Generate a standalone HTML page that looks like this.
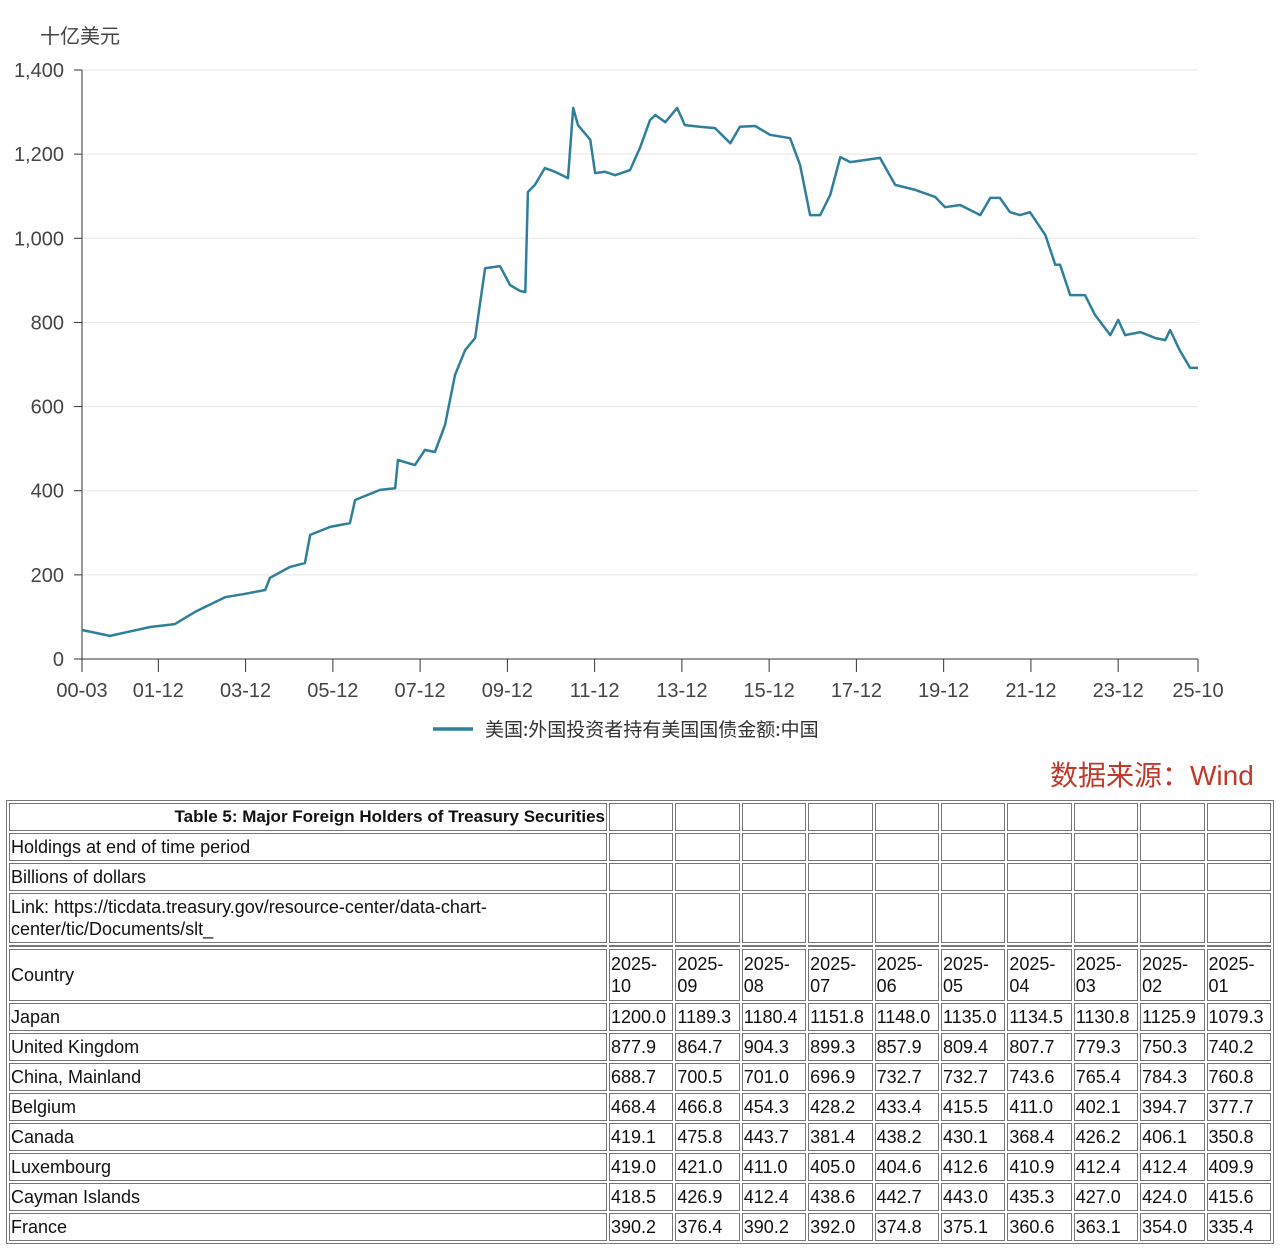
<!DOCTYPE html>
<html><head><meta charset="utf-8">
<style>
body{margin:0;width:1280px;height:1249px;background:#fff;overflow:hidden;font-family:"Liberation Sans","Noto Sans CJK SC",sans-serif;position:relative}
#chart{position:absolute;left:0;top:0}
#src{position:absolute;left:1050px;top:754px;font-size:28px;color:#c0392b;font-family:"Liberation Sans","Noto Sans CJK SC",sans-serif}
table{position:absolute;left:6px;top:800px;width:1268px;border-collapse:separate;border-spacing:2px;border:1px solid #777;table-layout:fixed;font-size:18px;color:#111}
td{border:1px solid #777;padding:0 1px;white-space:nowrap;overflow:hidden;line-height:22px;vertical-align:middle}
tr{height:28px}
.t{font-weight:bold;text-align:right;font-size:17px}
.w{white-space:normal}
</style></head><body>
<svg id="chart" width="1280" height="790"></svg>
<div id="src">数据来源：Wind</div>
<table>
<colgroup><col style="width:598px"><col span="10"></colgroup>
<tr><td class="t">Table 5: Major Foreign Holders of Treasury Securities</td><td></td><td></td><td></td><td></td><td></td><td></td><td></td><td></td><td></td><td></td></tr>
<tr><td>Holdings at end of time period</td><td></td><td></td><td></td><td></td><td></td><td></td><td></td><td></td><td></td><td></td></tr>
<tr><td>Billions of dollars</td><td></td><td></td><td></td><td></td><td></td><td></td><td></td><td></td><td></td><td></td></tr>
<tr style="height:50px"><td class="w">Link: https://ticdata.treasury.gov/resource-center/data-chart-center/tic/Documents/slt_</td><td></td><td></td><td></td><td></td><td></td><td></td><td></td><td></td><td></td><td></td></tr>
<tr style="height:2px"><td style="line-height:0"></td><td></td><td></td><td></td><td></td><td></td><td></td><td></td><td></td><td></td><td></td></tr>
<tr style="height:52px"><td>Country</td><td class="w">2025-<br>10</td><td class="w">2025-<br>09</td><td class="w">2025-<br>08</td><td class="w">2025-<br>07</td><td class="w">2025-<br>06</td><td class="w">2025-<br>05</td><td class="w">2025-<br>04</td><td class="w">2025-<br>03</td><td class="w">2025-<br>02</td><td class="w">2025-<br>01</td></tr>
<tr><td>Japan</td><td>1200.0</td><td>1189.3</td><td>1180.4</td><td>1151.8</td><td>1148.0</td><td>1135.0</td><td>1134.5</td><td>1130.8</td><td>1125.9</td><td>1079.3</td></tr>
<tr><td>United Kingdom</td><td>877.9</td><td>864.7</td><td>904.3</td><td>899.3</td><td>857.9</td><td>809.4</td><td>807.7</td><td>779.3</td><td>750.3</td><td>740.2</td></tr>
<tr><td>China, Mainland</td><td>688.7</td><td>700.5</td><td>701.0</td><td>696.9</td><td>732.7</td><td>732.7</td><td>743.6</td><td>765.4</td><td>784.3</td><td>760.8</td></tr>
<tr><td>Belgium</td><td>468.4</td><td>466.8</td><td>454.3</td><td>428.2</td><td>433.4</td><td>415.5</td><td>411.0</td><td>402.1</td><td>394.7</td><td>377.7</td></tr>
<tr><td>Canada</td><td>419.1</td><td>475.8</td><td>443.7</td><td>381.4</td><td>438.2</td><td>430.1</td><td>368.4</td><td>426.2</td><td>406.1</td><td>350.8</td></tr>
<tr><td>Luxembourg</td><td>419.0</td><td>421.0</td><td>411.0</td><td>405.0</td><td>404.6</td><td>412.6</td><td>410.9</td><td>412.4</td><td>412.4</td><td>409.9</td></tr>
<tr><td>Cayman Islands</td><td>418.5</td><td>426.9</td><td>412.4</td><td>438.6</td><td>442.7</td><td>443.0</td><td>435.3</td><td>427.0</td><td>424.0</td><td>415.6</td></tr>
<tr><td>France</td><td>390.2</td><td>376.4</td><td>390.2</td><td>392.0</td><td>374.8</td><td>375.1</td><td>360.6</td><td>363.1</td><td>354.0</td><td>335.4</td></tr>
</table>
<script>
const years=[2000.17,2000.81,2001.73,2002.30,2002.76,2003.45,2003.91,2004.37,2004.48,2004.94,2005.28,2005.40,2005.86,2006.31,2006.43,2007.00,2007.35,2007.41,2007.80,2008.03,2008.26,2008.49,2008.72,2008.95,2009.18,2009.41,2009.75,2009.98,2010.21,2010.33,2010.39,2010.55,2010.78,2011.01,2011.31,2011.43,2011.54,2011.82,2011.93,2012.16,2012.39,2012.73,2012.96,2013.19,2013.31,2013.54,2013.81,2013.99,2014.33,2014.68,2015.03,2015.25,2015.60,2015.94,2016.40,2016.63,2016.86,2017.09,2017.32,2017.55,2017.78,2018.12,2018.46,2018.81,2019.27,2019.73,2019.95,2020.30,2020.76,2020.99,2021.21,2021.44,2021.67,2021.90,2022.25,2022.48,2022.59,2022.82,2023.16,2023.39,2023.74,2023.92,2024.08,2024.43,2024.77,2025.00,2025.11,2025.33,2025.57,2025.75];
const values=[69,55,76,83,112,147,155,164,193,219,228,295,314,323,378,402,406,473,461,497,492,556,675,734,763,929,934,889,875,872,1110,1127,1167,1158,1143,1310,1269,1234,1155,1158,1150,1162,1215,1281,1293,1276,1310,1269,1265,1262,1226,1265,1267,1246,1238,1174,1055,1055,1103,1193,1181,1186,1191,1127,1115,1098,1074,1079,1055,1096,1096,1062,1055,1062,1008,937,937,865,865,818,770,806,770,777,763,758,782,734,692,692];
const yTicks=[0,200,400,600,800,1000,1200,1400];
const yTickLabels=["0","200","400","600","800","1,000","1,200","1,400"];
const xTickYears=[2000.17,2001.92,2003.92,2005.92,2007.92,2009.92,2011.92,2013.92,2015.92,2017.92,2019.92,2021.92,2023.92,2025.75];
const xTickLabels=["00-03","01-12","03-12","05-12","07-12","09-12","11-12","13-12","15-12","17-12","19-12","21-12","23-12","25-10"];
const NS="http://www.w3.org/2000/svg";
const svg=document.getElementById('chart');
const X=v=>82+(v-2000.17)*(1198-82)/(2025.75-2000.17);
const Y=v=>659-v*(589/1400);
function mk(t,a,p){const e=document.createElementNS(NS,t);for(const k in a)e.setAttribute(k,a[k]);(p||svg).appendChild(e);return e;}
yTicks.forEach((t,i)=>{
 if(t>0){const g=mk('line',{x1:82,x2:1198,y1:Y(t),y2:Y(t),stroke:'#e6e6e6','stroke-width':1});
 
 }
 mk('line',{x1:74,x2:82,y1:Y(t),y2:Y(t),stroke:'#333'});
 const l=mk('text',{x:64,y:Y(t)+7,'text-anchor':'end','font-size':20,fill:'#444','font-family':'Liberation Sans, sans-serif'});
 l.textContent=yTickLabels[i];
 
 
});
mk('line',{x1:82,x2:82,y1:Y(1400),y2:659,stroke:'#333'});
mk('line',{x1:82,x2:1198,y1:659,y2:659,stroke:'#333'});
xTickYears.forEach((t,i)=>{
 mk('line',{x1:X(t),x2:X(t),y1:659,y2:672,stroke:'#333'});
 const l=mk('text',{x:X(t),y:697,'text-anchor':'middle','font-size':20,fill:'#444','font-family':'Liberation Sans, sans-serif'});
 l.textContent=xTickLabels[i];
 
 
});
const u=mk('text',{x:40,y:43,'font-size':20,fill:'#444','font-family':'Noto Sans CJK SC, sans-serif'});
u.textContent='十亿美元';


const pts=years.map((y,i)=>X(y).toFixed(1)+','+Y(values[i]).toFixed(1)).join(' ');
const line=mk('polyline',{points:pts,fill:'none',stroke:'#2f7f9b','stroke-width':2.5,'stroke-linejoin':'round'});


const lg=mk('line',{x1:433,x2:473,y1:729,y2:729,stroke:'#2f7f9b','stroke-width':3.5});


const lt=mk('text',{x:485,y:736,'font-size':19,fill:'#333','font-family':'Noto Sans CJK SC, sans-serif'});
lt.textContent='美国:外国投资者持有美国国债金额:中国';


</script>
</body></html>
